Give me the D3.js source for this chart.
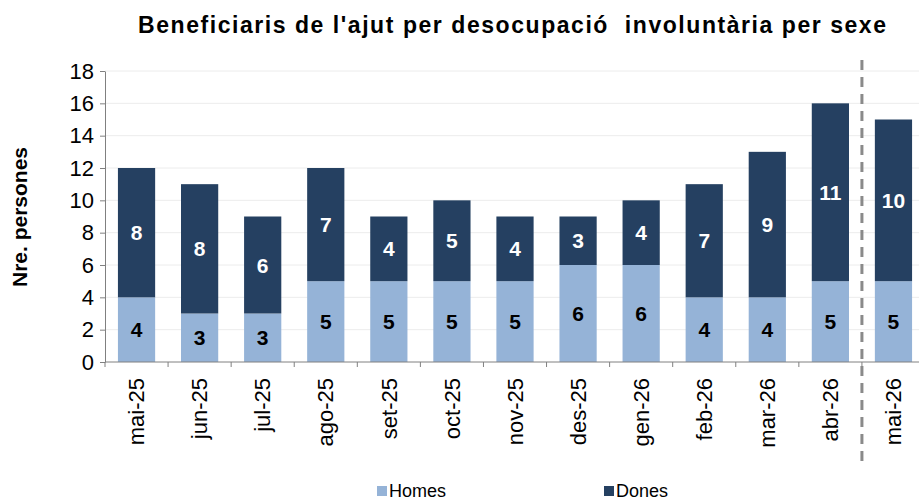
<!DOCTYPE html>
<html>
<head>
<meta charset="utf-8">
<script src="https://cdn.jsdelivr.net/npm/d3@7"></script>
<style>
  body { margin: 0; background: #fff; }
  svg { display: block; font-family: "Liberation Sans", Arial, sans-serif; }
</style>
</head>
<body>
<svg width="919" height="497"></svg>
<script>
// chart data
var months = ["mai-25", "jun-25", "jul-25", "ago-25", "set-25", "oct-25", "nov-25",
              "des-25", "gen-26", "feb-26", "mar-26", "abr-26", "mai-26"];
var homes = [4, 3, 3, 5, 5, 5, 5, 6, 6, 4, 4, 5, 5];
var dones = [8, 8, 6, 7, 4, 5, 4, 3, 4, 7, 9, 11, 10];
var yTicks = [0, 2, 4, 6, 8, 10, 12, 14, 16, 18];
var seriesNames = ["Homes", "Dones"];

var svg = d3.select("svg"),
    plotLeft = 105, plotRight = 925, plotTop = 71, plotBottom = 362;

var rows = months.map(function(m, i) { return {month: m, Homes: homes[i], Dones: dones[i]}; });
var stacked = d3.stack().keys(seriesNames)(rows);

var x = d3.scaleBand()
    .domain(months)
    .range([plotLeft, plotRight])
    .paddingInner(0.41)
    .paddingOuter(0.205);

var y = d3.scaleLinear()
    .domain([0, 18])
    .range([plotBottom, plotTop]);

var color = d3.scaleOrdinal()
    .domain(seriesNames)
    .range(["#95b3d7", "#254061"]);

// gridlines
svg.append("g")
  .selectAll("line")
  .data(yTicks.slice(1))
  .enter().append("line")
    .attr("x1", plotLeft).attr("x2", plotRight)
    .attr("y1", function(d) { return y(d); })
    .attr("y2", function(d) { return y(d); })
    .style("stroke", "#ececec")
    .style("stroke-width", 1);

// bars
var layer = svg.append("g")
  .selectAll("g")
  .data(stacked)
  .enter().append("g")
    .style("fill", function(d) { return color(d.key); });

layer.selectAll("rect")
  .data(function(d) { return d; })
  .enter().append("rect")
    .attr("x", function(d) { return x(d.data.month); })
    .attr("width", x.bandwidth())
    .attr("y", function(d) { return y(d[1]); })
    .attr("height", function(d) { return y(d[0]) - y(d[1]); });

// value labels
stacked.forEach(function(s) {
  svg.append("g")
    .selectAll("text")
    .data(s)
    .enter().append("text")
      .attr("x", function(d) { return x(d.data.month) + x.bandwidth() / 2; })
      .attr("y", function(d) { return (y(d[0]) + y(d[1])) / 2; })
      .attr("dy", "0.36em")
      .attr("text-anchor", "middle")
      .style("font-size", "21px")
      .style("font-weight", "bold")
      .style("fill", s.key === "Dones" ? "#fff" : "#000")
      .text(function(d) { return d[1] - d[0]; });
});

// y axis
var yAxis = svg.append("g")
    .attr("transform", "translate(" + plotLeft + ",0)")
    .call(d3.axisLeft(y).tickValues(yTicks).tickSize(5).tickPadding(6).tickSizeOuter(0));
yAxis.select(".domain").style("stroke", "#808080");
yAxis.selectAll(".tick line").style("stroke", "#808080");
yAxis.selectAll("text")
    .style("font-size", "22px")
    .style("font-family", "Liberation Sans, Arial, sans-serif")
    .style("fill", "#000");

// x axis with ticks between the bands
var xAxis = svg.append("g")
    .attr("transform", "translate(0," + plotBottom + ")");
xAxis.append("line")
    .attr("x1", plotLeft).attr("x2", plotRight)
    .style("stroke", "#808080");
xAxis.selectAll(".sep")
  .data(months)
  .enter().append("line")
    .attr("x1", function(d) { return x(d) - x.step() * x.paddingInner() / 2; })
    .attr("x2", function(d) { return x(d) - x.step() * x.paddingInner() / 2; })
    .attr("y1", 0).attr("y2", 5)
    .style("stroke", "#808080");
xAxis.selectAll(".lbl")
  .data(months)
  .enter().append("text")
    .attr("transform", function(d) {
      return "translate(" + (x(d) + x.bandwidth() / 2) + ",16) rotate(-90)";
    })
    .attr("dy", "0.35em")
    .attr("text-anchor", "end")
    .style("font-size", "22px")
    .text(function(d) { return d; });

// dashed separator before the last month
var sepX = x(months[12]) - x.step() * x.paddingInner() / 2;
svg.append("line")
    .attr("x1", sepX).attr("x2", sepX)
    .attr("y1", 60).attr("y2", 466)
    .style("stroke", "#8a8a8a")
    .style("stroke-width", 3)
    .style("stroke-dasharray", "10,7");

// title
svg.append("text")
    .attr("x", 138)
    .attr("y", 33)
    .attr("textLength", 748)
    .attr("lengthAdjust", "spacing")
    .attr("xml:space", "preserve")
    .style("font-size", "23px")
    .style("font-weight", "bold")
    .text("Beneficiaris de l'ajut per desocupació  involuntària per sexe");

// y axis title
svg.append("text")
    .attr("transform", "translate(27,217) rotate(-90)")
    .attr("text-anchor", "middle")
    .style("font-size", "21px")
    .style("font-weight", "bold")
    .text("Nre. persones");

// legend
var legendX = [377, 604];
var legend = svg.append("g")
  .selectAll("g")
  .data(seriesNames)
  .enter().append("g")
    .attr("transform", function(d, i) { return "translate(" + legendX[i] + ",486)"; });
legend.append("rect")
    .attr("width", 10).attr("height", 10)
    .style("fill", function(d) { return color(d); });
legend.append("text")
    .attr("x", 12)
    .attr("y", 5)
    .attr("dy", "0.36em")
    .style("font-size", "18px")
    .text(function(d) { return d; });
</script>
</body>
</html>
